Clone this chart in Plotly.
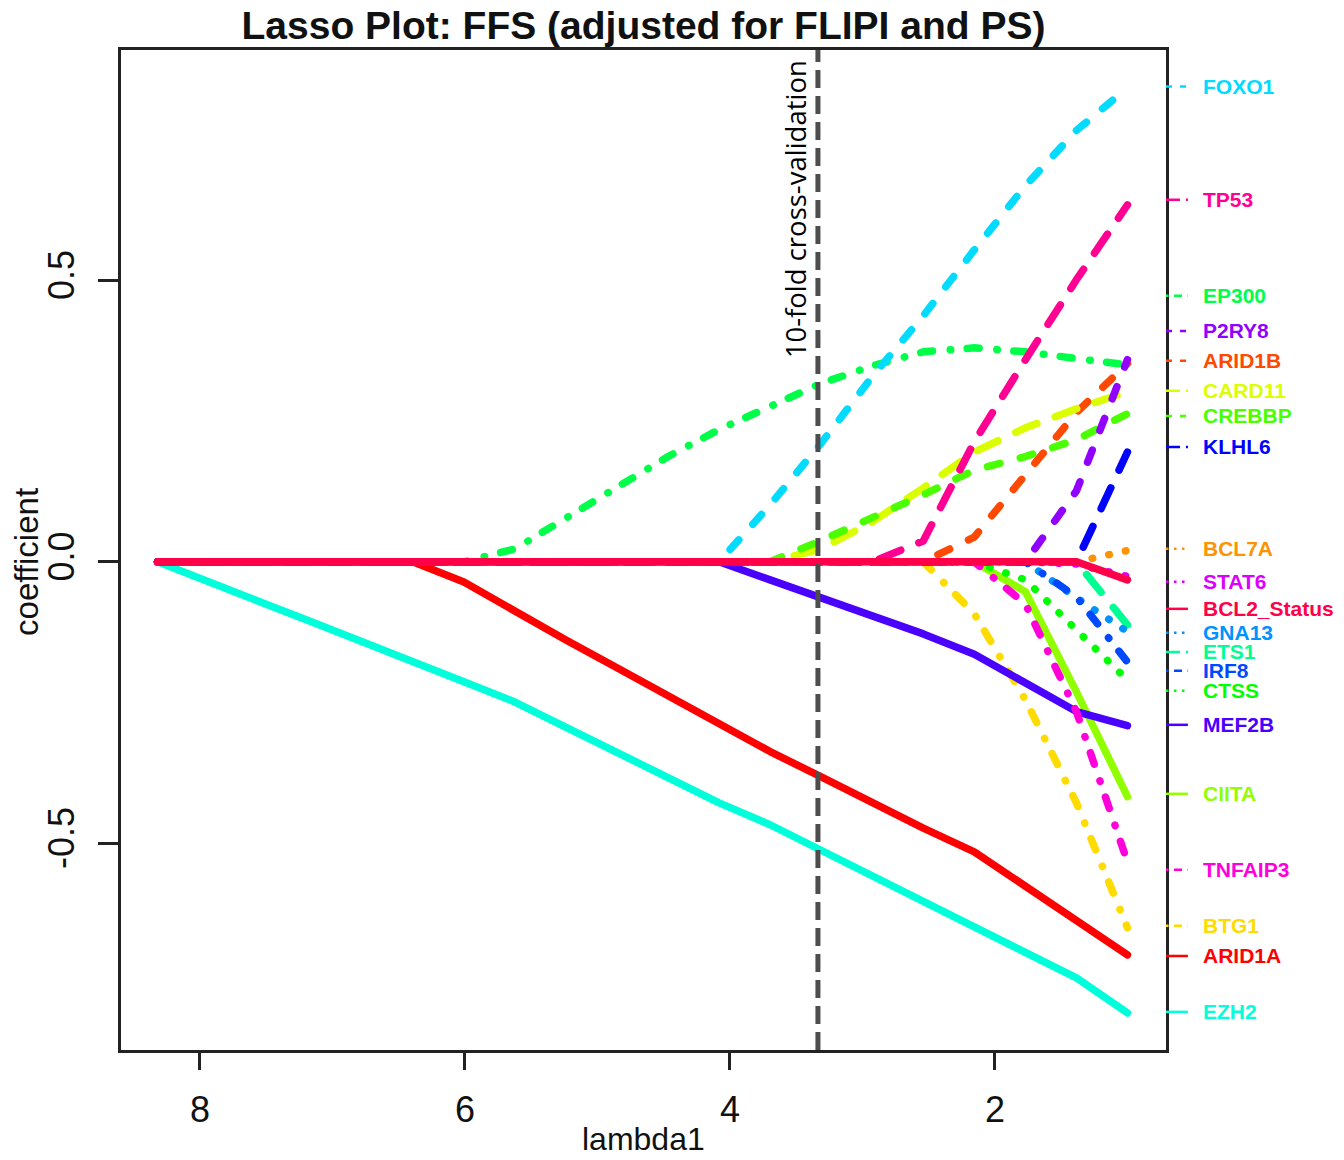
import colorsys
import plotly.graph_objects as go

# ---------------- data ----------------
lambda1 = [8.320, 7.935, 7.549, 7.164, 6.779, 6.394, 6.008, 5.623, 5.238, 4.853,
           4.467, 4.082, 3.697, 3.311, 2.926, 2.541, 2.156, 1.770, 1.385, 1.000]

ARID1A = [0, 0, 0, 0, 0, 0, -0.036, -0.089, -0.139, -0.188,
          -0.238, -0.288, -0.337, -0.382, -0.428, -0.473, -0.515, -0.576, -0.637, -0.698]
ARID1B = [0, 0, 0, 0, 0, 0, 0, 0, 0, 0,
          0, 0, 0, 0, 0, 0, 0.044, 0.156, 0.265, 0.352]
BCL7A = [0, 0, 0, 0, 0, 0, 0, 0, 0, 0,
         0, 0, 0, 0, 0, 0, 0, 0, 0, 0.020]
BTG1 = [0, 0, 0, 0, 0, 0, 0, 0, 0, 0,
        0, 0, 0, 0, 0, 0, -0.092, -0.245, -0.428, -0.650]
CARD11 = [0, 0, 0, 0, 0, 0, 0, 0, 0, 0,
          0, 0, 0, 0.023, 0.071, 0.131, 0.195, 0.238, 0.272, 0.302]
CIITA = [0, 0, 0, 0, 0, 0, 0, 0, 0, 0,
         0, 0, 0, 0, 0, 0, 0, -0.053, -0.231, -0.417]
CREBBP = [0, 0, 0, 0, 0, 0, 0, 0, 0, 0,
          0, 0, 0, 0.038, 0.078, 0.119, 0.163, 0.187, 0.217, 0.263]
CTSS = [0, 0, 0, 0, 0, 0, 0, 0, 0, 0,
        0, 0, 0, 0, 0, 0, 0, -0.032, -0.121, -0.210]
EP300 = [0, 0, 0, 0, 0, 0, 0, 0.023, 0.078, 0.133,
         0.187, 0.235, 0.277, 0.317, 0.348, 0.373, 0.380, 0.373, 0.361, 0.350]
ETS1 = [0, 0, 0, 0, 0, 0, 0, 0, 0, 0,
        0, 0, 0, 0, 0, 0, 0, 0, 0, -0.112]
EZH2 = [0, -0.037, -0.071, -0.106, -0.141, -0.175, -0.213, -0.249, -0.294, -0.339,
        -0.383, -0.428, -0.467, -0.512, -0.556, -0.601, -0.649, -0.694, -0.739, -0.801]
FOXO1 = [0, 0, 0, 0, 0, 0, 0, 0, 0, 0,
         0, 0, 0.101, 0.211, 0.329, 0.437, 0.554, 0.668, 0.766, 0.842]
GNA13 = [0, 0, 0, 0, 0, 0, 0, 0, 0, 0,
         0, 0, 0, 0, 0, 0, 0, 0, -0.064, -0.124]
IRF8 = [0, 0, 0, 0, 0, 0, 0, 0, 0, 0,
        0, 0, 0, 0, 0, 0, 0, 0, -0.062, -0.178]
KLHL6 = [0, 0, 0, 0, 0, 0, 0, 0, 0, 0,
         0, 0, 0, 0, 0, 0, 0, 0, 0, 0.195]
MEF2B = [0, 0, 0, 0, 0, 0, 0, 0, 0, 0,
         0, 0, -0.032, -0.064, -0.096, -0.128, -0.164, -0.216, -0.266, -0.291]
P2RY8 = [0, 0, 0, 0, 0, 0, 0, 0, 0, 0,
         0, 0, 0, 0, 0, 0, 0, 0, 0.126, 0.359]
STAT6 = [0, 0, 0, 0, 0, 0, 0, 0, 0, 0,
         0, 0, 0, 0, 0, 0, 0, 0, -0.004, -0.026]
TNFAIP3 = [0, 0, 0, 0, 0, 0, 0, 0, 0, 0,
           0, 0, 0, 0, 0, 0, 0, -0.075, -0.266, -0.533]
TP53 = [0, 0, 0, 0, 0, 0, 0, 0, 0, 0,
        0, 0, 0, 0, 0, 0.037, 0.213, 0.359, 0.501, 0.634]
BCL2_Status = [0, 0, 0, 0, 0, 0, 0, 0, 0, 0,
               0, 0, 0, 0, 0, 0, 0, 0, 0, -0.032]

variables = ["ARID1A", "ARID1B", "BCL7A", "BTG1", "CARD11", "CIITA", "CREBBP",
             "CTSS", "EP300", "ETS1", "EZH2", "FOXO1", "GNA13", "IRF8", "KLHL6",
             "MEF2B", "P2RY8", "STAT6", "TNFAIP3", "TP53", "BCL2_Status"]
series = [ARID1A, ARID1B, BCL7A, BTG1, CARD11, CIITA, CREBBP, CTSS, EP300, ETS1,
          EZH2, FOXO1, GNA13, IRF8, KLHL6, MEF2B, P2RY8, STAT6, TNFAIP3, TP53,
          BCL2_Status]

cv_lambda = 3.336
x_ticks = [8, 6, 4, 2]
y_ticks = [-0.5, 0.0, 0.5]
y_tick_labels = ["-0.5", "0.0", "0.5"]

# ---------------- styling ----------------
def rainbow(n):
    out = []
    for i in range(n):
        r, g, b = colorsys.hsv_to_rgb(i / n, 1.0, 1.0)
        out.append("#%02X%02X%02X" % (round(r * 255), round(g * 255), round(b * 255)))
    return out

colors = rainbow(len(variables))
lty_cycle = ["solid", "dashed", "dotted", "dotdash", "longdash"]
main_dash = {
    "solid": "solid",
    "dashed": "13px,21px",
    "dotted": "0.5px,16.5px",
    "dotdash": "0.5px,16.5px,12px,17.75px",
    "longdash": "23px,19.5px",
}
seg_dash = {
    "solid": "solid",
    "dashed": "6px,8px",
    "dotted": "2.5px,5.5px",
    "dotdash": "2.5px,5.5px,8px,5.5px",
    "longdash": "14px,6px",
}

# positions of the right-hand labels (spread so they do not overlap)
label_pos = {
    "FOXO1": 0.844, "TP53": 0.643, "EP300": 0.4725, "P2RY8": 0.410,
    "ARID1B": 0.357, "CARD11": 0.304, "CREBBP": 0.259, "KLHL6": 0.204,
    "BCL7A": 0.023, "STAT6": -0.0355, "BCL2_Status": -0.0835, "GNA13": -0.126,
    "ETS1": -0.160, "IRF8": -0.1936, "CTSS": -0.229, "MEF2B": -0.2895,
    "CIITA": -0.412, "TNFAIP3": -0.547, "BTG1": -0.6465, "ARID1A": -0.700,
    "EZH2": -0.7993,
}

FONT = "Liberation Sans, Arial, Helvetica, sans-serif"

fig = go.Figure()
for i, (name, vals) in enumerate(zip(variables, series)):
    lty = lty_cycle[i % 5]
    fig.add_trace(go.Scatter(
        x=lambda1, y=vals, mode="lines", name=name,
        line=dict(color=colors[i], width=7.5, dash=main_dash[lty]),
        hoverinfo="name+x+y",
    ))

shapes = []
annotations = []

# cross-validation line
shapes.append(dict(type="line", xref="x", yref="paper", x0=cv_lambda, x1=cv_lambda,
                   y0=0, y1=1, line=dict(color="#4d4d4d", width=5, dash="18px,8px"),
                   layer="above"))
annotations.append(dict(text="10-fold cross-validation", x=cv_lambda, xref="x",
                        y=0.895, yref="y", xanchor="right", yanchor="top",
                        xshift=-2, textangle=-90, showarrow=False,
                        font=dict(family="Open Sans, Noto Sans, sans-serif",
                                  size=27.5, color="#000000")))

# right-hand labels and their short line-style segments
for i, name in enumerate(variables):
    lty = lty_cycle[i % 5]
    yv = label_pos[name]
    shapes.append(dict(type="line", xref="paper", yref="y", x0=1.0, x1=1.021,
                       y0=yv, y1=yv,
                       line=dict(color=colors[i], width=2.5, dash=seg_dash[lty])))
    annotations.append(dict(text="<b>%s</b>" % name, xref="paper", yref="y",
                            x=1.0335, y=yv, xanchor="left", yanchor="middle",
                            showarrow=False,
                            font=dict(family=FONT, size=21, color=colors[i])))

# axis titles
annotations.append(dict(text="coefficient", xref="paper", yref="paper",
                        x=-0.091, y=0.488, xanchor="center", yanchor="middle",
                        textangle=-90, showarrow=False,
                        font=dict(family=FONT, size=33, color="#111111")))
annotations.append(dict(text="lambda1", xref="paper", yref="paper",
                        x=0.5, y=-0.089, xanchor="center", yanchor="middle",
                        showarrow=False,
                        font=dict(family=FONT, size=32, color="#111111")))

axis_common = dict(showgrid=False, zeroline=False, showline=True, mirror=True,
                   linecolor="#222222", linewidth=2.5, ticks="outside",
                   tickwidth=2.5, tickcolor="#222222",
                   tickfont=dict(family=FONT, size=36, color="#111111"))

fig.update_layout(
    width=1344, height=1160,
    margin=dict(l=121, r=178, t=50, b=110),
    plot_bgcolor="white", paper_bgcolor="white",
    showlegend=False,
    font=dict(family=FONT, color="#111111"),
    title=dict(text="<b>Lasso Plot: FFS (adjusted for FLIPI and PS)</b>",
               x=0.5, xref="paper", xanchor="center",
               y=1 - 25 / 1160, yref="container", yanchor="middle",
               font=dict(family=FONT, size=39, color="#111111")),
    xaxis=dict(range=[8.596, 0.709], tickvals=x_ticks,
               ticktext=[str(t) for t in x_ticks], ticklen=17,
               ticklabelstandoff=9, **axis_common),
    yaxis=dict(range=[-0.867, 0.909], tickvals=y_ticks, ticktext=y_tick_labels,
               tickangle=-90, ticklen=20, ticklabelstandoff=10, **axis_common),
    shapes=shapes,
    annotations=annotations,
)

post = ("document.querySelectorAll('.scatterlayer .js-line').forEach(function(p){"
        "p.style.strokeLinecap='round';p.style.strokeLinejoin='round';});")
fig.write_html("out.html", post_script=post)
